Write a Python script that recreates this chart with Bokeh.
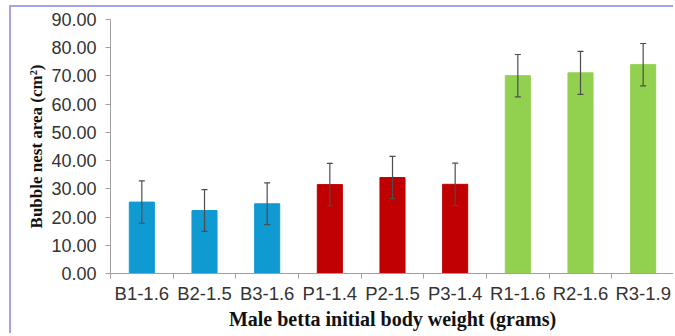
from bokeh.plotting import figure
from bokeh.models import ColumnDataSource, FixedTicker, NumeralTickFormatter, Whisker, TeeHead, Range1d
from bokeh.embed import file_html
from bokeh.resources import INLINE

# Bubble nest area by male betta group (initial body weight, g)
groups = ["B1-1.6", "B2-1.5", "B3-1.6", "P1-1.4", "P2-1.5", "P3-1.4", "R1-1.6", "R2-1.6", "R3-1.9"]
nest_area = [25.3, 22.3, 24.7, 31.5, 34.0, 31.6, 70.1, 71.1, 74.0]
std_err = [7.5, 7.4, 7.4, 7.5, 7.5, 7.5, 7.5, 7.6, 7.5]
bar_colors = ["#0f9ad2"] * 3 + ["#c00000"] * 3 + ["#92d050"] * 3
y_ticks = [0, 10, 20, 30, 40, 50, 60, 70, 80, 90]

idx = list(range(len(groups)))
src = ColumnDataSource(dict(
    x=idx,
    top=nest_area,
    color=bar_colors,
    lower=[m - e for m, e in zip(nest_area, std_err)],
    upper=[m + e for m, e in zip(nest_area, std_err)],
))

p = figure(
    width=664, height=328,
    x_range=Range1d(-0.5, len(groups) - 0.5),
    y_range=Range1d(0, 90),
    output_backend="svg", toolbar_location=None,
    min_border_left=99, min_border_right=1, min_border_top=12, min_border_bottom=62,
    styles={"border-left": "2px solid #a3a3e6", "border-top": "2px solid #a3a3e6",
            "margin-left": "9px", "margin-top": "5px"},
)
p.outline_line_color = None
p.xgrid.visible = False
p.ygrid.visible = False
p.background_fill_color = "white"
p.border_fill_color = "white"

p.vbar(x="x", top="top", width=0.4, color="color", source=src)

err = Whisker(base="x", lower="lower", upper="upper", source=src, level="overlay",
              line_color="#4d4d4d", line_width=1.2,
              lower_head=TeeHead(size=6, line_color="#4d4d4d", line_width=1.2),
              upper_head=TeeHead(size=6, line_color="#4d4d4d", line_width=1.2))
p.add_layout(err)

axis_gray = "#a0a0a0"
label_color = "#333333"

# x axis: group names at bar centres, short ticks between groups
xa = p.xaxis[0]
xa.ticker = FixedTicker(ticks=idx, minor_ticks=[i - 0.5 for i in range(len(groups) + 1)])
xa.major_label_overrides = {i: g for i, g in zip(idx, groups)}
xa.major_tick_out = 0
xa.major_tick_in = 0
xa.minor_tick_out = 5
xa.minor_tick_in = 0
xa.minor_tick_line_color = axis_gray
xa.axis_line_color = axis_gray
xa.major_label_text_font = "Liberation Sans"
xa.major_label_text_font_size = "18.5px"
xa.major_label_text_color = label_color
xa.major_label_standoff = 4
xa.axis_label = "Male betta initial body weight (grams)"
xa.axis_label_text_font = "Liberation Serif"
xa.axis_label_text_font_style = "bold"
xa.axis_label_text_font_size = "20px"
xa.axis_label_text_color = "#111111"
xa.axis_label_standoff = 1

ya = p.yaxis[0]
ya.ticker = FixedTicker(ticks=y_ticks, minor_ticks=[])
ya.formatter = NumeralTickFormatter(format="0.00")
ya.major_tick_out = 5
ya.major_tick_in = 0
ya.major_tick_line_color = axis_gray
ya.axis_line_color = axis_gray
ya.major_label_text_font = "Liberation Sans"
ya.major_label_text_font_size = "18px"
ya.major_label_text_color = label_color
ya.major_label_standoff = 9
ya.axis_label = "Bubble nest area (cm²)"
ya.axis_label_text_font = "Liberation Serif"
ya.axis_label_text_font_style = "bold"
ya.axis_label_text_font_size = "17px"
ya.axis_label_text_color = "#111111"
ya.axis_label_standoff = 2

open("out.html", "w").write(file_html(p, INLINE))
